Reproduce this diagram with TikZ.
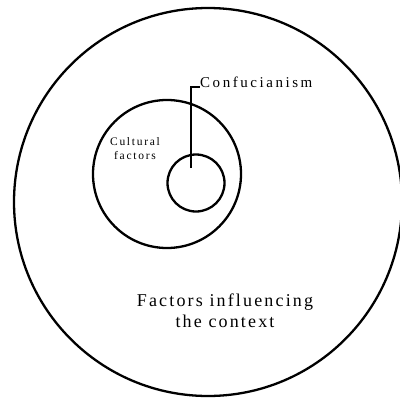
\documentclass[tikz,border=0pt]{standalone}
\usepackage{fontspec}
\setmainfont{Liberation Serif}
\newfontfamily\spacedA[LetterSpace=12]{Liberation Serif}
\newfontfamily\spacedB[LetterSpace=17]{Liberation Serif}
\newfontfamily\spacedC[LetterSpace=15]{Liberation Serif}
\begin{document}
\begin{tikzpicture}[x=1pt,y=-1pt,
  ring/.style={draw, circle, line width=2.3pt, inner sep=0pt},
  lead/.style={line width=1.5pt}]
\useasboundingbox (0,0) rectangle (400,400);
\clip (0,0) rectangle (400,400);
\node[ring, minimum size=388pt] (outer) at (208,202) {};
\node[ring, minimum size=148pt] (middle) at (167,174) {};
\node[ring, minimum size=57pt] (inner) at (196,183) {};
\node[anchor=base west, inner sep=0pt, font=\spacedB\fontsize{15}{17}\selectfont] (conf) at (200,87) {Confucianism};
\node[align=center, inner sep=0pt, font=\spacedC\fontsize{11.5}{14}\selectfont] (cult) at (135,149) {Cultural\\factors};
\node[align=center, inner sep=0pt, font=\spacedA\fontsize{18}{21}\selectfont] (ctx) at (225,311) {Factors influencing\\the context};
\coordinate (p) at (191,168);
\draw[lead] (p) |- (conf.base west);
\end{tikzpicture}
\end{document}
